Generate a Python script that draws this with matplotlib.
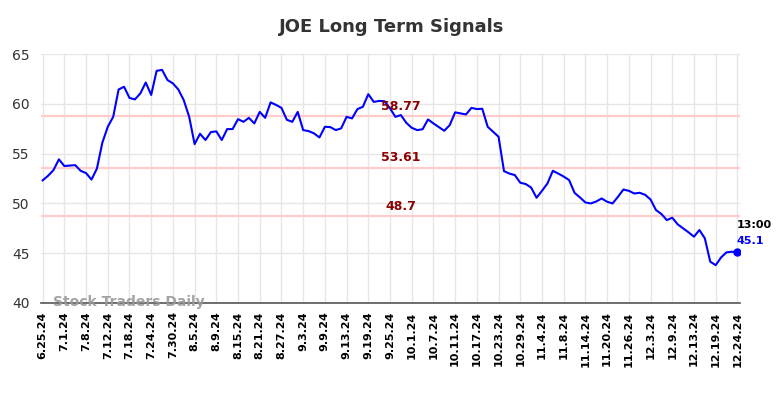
import numpy as np
import matplotlib
matplotlib.use("Agg")
import matplotlib.pyplot as plt

# closing prices, one per trading day (last one is 13:00 intraday)
prices = [
    52.32, 52.78, 53.35, 54.43, 53.76, 53.80, 53.85, 53.28, 53.05, 52.40,
    53.50, 56.10, 57.70, 58.70, 61.45, 61.72, 60.60, 60.45, 61.05, 62.15,
    60.90, 63.32, 63.42, 62.40, 62.06, 61.45, 60.38, 58.70, 55.96, 57.00,
    56.37, 57.17, 57.24, 56.37, 57.47, 57.47, 58.47, 58.20, 58.60, 58.04,
    59.20, 58.60, 60.15, 59.90, 59.60, 58.40, 58.20, 59.20, 57.37, 57.27,
    57.04, 56.63, 57.70, 57.67, 57.37, 57.54, 58.70, 58.54, 59.48, 59.71,
    60.98, 60.20, 60.30, 60.27, 59.55, 58.70, 58.88, 58.10, 57.60, 57.37,
    57.45, 58.44, 58.04, 57.67, 57.30, 57.87, 59.15, 59.04, 58.94, 59.60,
    59.48, 59.51, 57.70, 57.20, 56.70, 53.25, 53.00, 52.85, 52.08, 51.95,
    51.60, 50.57, 51.27, 52.00, 53.28, 53.00, 52.70, 52.35, 51.07, 50.60,
    50.10, 50.00, 50.20, 50.50, 50.17, 50.00, 50.67, 51.40, 51.27, 51.00,
    51.07, 50.87, 50.40, 49.34, 48.94, 48.33, 48.57, 47.90, 47.50, 47.10,
    46.66, 47.33, 46.50, 44.15, 43.80, 44.58, 45.09, 45.15, 45.10,
]

tick_labels = [
    "6.25.24", "7.1.24", "7.8.24", "7.12.24", "7.18.24", "7.24.24", "7.30.24",
    "8.5.24", "8.9.24", "8.15.24", "8.21.24", "8.27.24", "9.3.24", "9.9.24",
    "9.13.24", "9.19.24", "9.25.24", "10.1.24", "10.7.24", "10.11.24",
    "10.17.24", "10.23.24", "10.29.24", "11.4.24", "11.8.24", "11.14.24",
    "11.20.24", "11.26.24", "12.3.24", "12.9.24", "12.13.24", "12.19.24",
    "12.24.24",
]

signal_levels = [58.77, 53.61, 48.7]
signal_texts = ["58.77", "53.61", "48.7"]
last_time = "13:00"

x = np.arange(len(prices))
tick_pos = np.arange(0, len(prices), 4)

fig = plt.figure(figsize=(7.84, 3.98), dpi=100)
ax = fig.add_axes([0.0523, 0.2387, 0.8917, 0.6253])

for lvl in signal_levels:
    ax.axhline(lvl, color="#ffcccc", lw=1.6, zorder=1)
for lvl, txt in zip(signal_levels, signal_texts):
    ax.text(66, lvl + 0.35, txt, color="#8b0000", fontsize=9, fontweight="bold",
            ha="center", va="bottom", zorder=4)

ax.plot(x, prices, color="#0000ff", lw=1.5, zorder=3)
ax.plot(x[-1], prices[-1], "o", color="#0000ff", ms=5, zorder=4)
ax.text(x[-1] - 0.2, prices[-1] + 2.2, last_time, color="black", fontsize=8,
        fontweight="bold", ha="left", va="bottom")
ax.text(x[-1] - 0.2, prices[-1] + 0.6, f"{prices[-1]:.1f}", color="#0000ff",
        fontsize=8, fontweight="bold", ha="left", va="bottom")

ax.text(2, 40.1, "Stock Traders Daily", color="#999999", fontsize=10,
        fontweight="bold", ha="left", va="center", alpha=0.9, zorder=5)

ax.set_xlim(-0.3, 128.5)
ax.set_ylim(40, 65)
ax.set_yticks([40, 45, 50, 55, 60, 65])
ax.set_xticks(tick_pos)
ax.set_xticklabels(tick_labels, rotation=90, fontsize=8, fontweight="bold")
ax.tick_params(axis="y", labelsize=10, length=0, colors="#333333", pad=8)
ax.tick_params(axis="x", length=0, pad=6)

ax.grid(True, color="#e6e6e6", lw=1)
ax.set_axisbelow(True)
for s in ["top", "right", "left"]:
    ax.spines[s].set_visible(False)
ax.spines["bottom"].set_color("#555555")
ax.spines["bottom"].set_linewidth(1.2)

fig.suptitle("JOE Long Term Signals", fontsize=13, fontweight="bold",
             color="#333333", y=0.955)

fig.savefig("out.png", dpi=100)
